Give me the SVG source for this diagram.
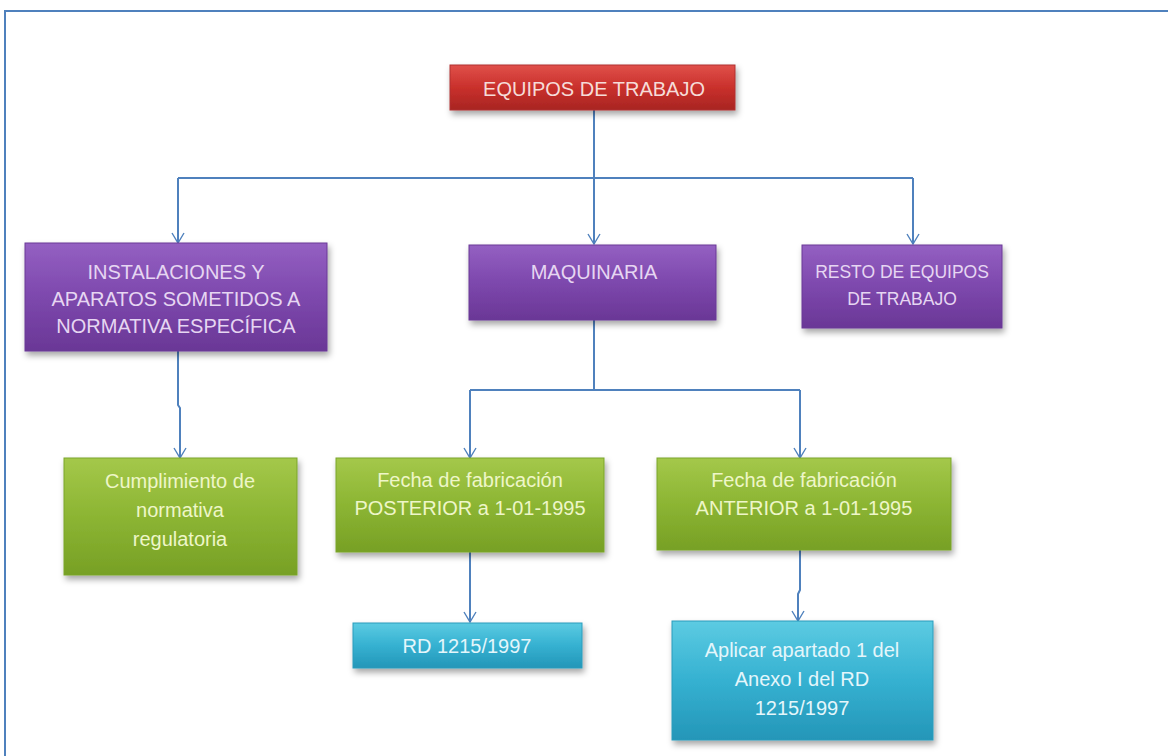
<svg xmlns="http://www.w3.org/2000/svg" width="1168" height="756" viewBox="0 0 1168 756">
<defs>
<linearGradient id="gRed" x1="0" y1="0" x2="0" y2="1"><stop offset="0" stop-color="#e0504a"/><stop offset="0.5" stop-color="#c9302c"/><stop offset="1" stop-color="#a82522"/></linearGradient>
<linearGradient id="gPur" x1="0" y1="0" x2="0" y2="1"><stop offset="0" stop-color="#9460c2"/><stop offset="0.5" stop-color="#7d48ad"/><stop offset="1" stop-color="#6a3796"/></linearGradient>
<linearGradient id="gGrn" x1="0" y1="0" x2="0" y2="1"><stop offset="0" stop-color="#a4c84a"/><stop offset="0.5" stop-color="#8cb533"/><stop offset="1" stop-color="#77a025"/></linearGradient>
<linearGradient id="gCyn" x1="0" y1="0" x2="0" y2="1"><stop offset="0" stop-color="#5ccbe2"/><stop offset="0.5" stop-color="#35b1d1"/><stop offset="1" stop-color="#2496b8"/></linearGradient>
<filter id="sh" x="-10%" y="-10%" width="125%" height="135%"><feDropShadow dx="2" dy="4" stdDeviation="3" flood-color="#000" flood-opacity="0.35"/></filter>
<marker id="arr" markerWidth="14" markerHeight="14" refX="13" refY="7" orient="auto" markerUnits="userSpaceOnUse" viewBox="0 0 14 14"><path d="M3,1 L13,7 L3,13" fill="none" stroke="#4f81bd" stroke-width="1.4"/></marker>
</defs>
<style>
.frame{fill:none;stroke:#4f81bd;stroke-width:2}
.c{fill:none;stroke:#4f81bd;stroke-width:2}
.box{filter:url(#sh);stroke-width:1}
.red{fill:url(#gRed);stroke:#b03030}
.pur{fill:url(#gPur);stroke:#6a3a96}
.grn{fill:url(#gGrn);stroke:#7aa52a}
.cyn{fill:url(#gCyn);stroke:#2a9cbc}
text{font-family:"Liberation Sans",Arial,sans-serif;font-size:20px;text-anchor:middle}
.sm{font-size:17.5px}
.tr{fill:#f6dcd8}
.tp{fill:#e6d6f2}
.tg{fill:#eef6c8}
.tc{fill:#e4f6fb}
</style>
<rect width="1168" height="756" fill="#ffffff"/>
<path class="frame" d="M5,756 V11 H1168"/>
<g id="connectors">
<path class="c" d="M594,110 V178"/>
<path class="c" d="M178,178 H913"/>
<path class="c" d="M178,178 V243" marker-end="url(#arr)"/>
<path class="c" d="M594,178 V244" marker-end="url(#arr)"/>
<path class="c" d="M913,178 V244" marker-end="url(#arr)"/>
<path class="c" d="M178,351 V405 L180,408 V458" marker-end="url(#arr)"/>
<path class="c" d="M594,320 V390"/>
<path class="c" d="M470,390 H800"/>
<path class="c" d="M470,390 V458" marker-end="url(#arr)"/>
<path class="c" d="M800,390 V458" marker-end="url(#arr)"/>
<path class="c" d="M470,552 V622" marker-end="url(#arr)"/>
<path class="c" d="M800,550 V590 L798,594 V621" marker-end="url(#arr)"/>
</g>
<g id="n-equipos">
<rect class="box red" x="450" y="65" width="285" height="45"/>
<text class="tr" x="594" y="96">EQUIPOS DE TRABAJO</text>
</g>
<g id="n-instalaciones">
<rect class="box pur" x="25" y="243" width="302" height="108"/>
<text class="tp" x="176" y="279">INSTALACIONES Y</text>
<text class="tp" x="176" y="306">APARATOS SOMETIDOS A</text>
<text class="tp" x="176" y="333">NORMATIVA ESPECÍFICA</text>
</g>
<g id="n-maquinaria">
<rect class="box pur" x="469" y="245" width="247" height="75"/>
<text class="tp" x="594" y="279">MAQUINARIA</text>
</g>
<g id="n-resto">
<rect class="box pur" x="802" y="245" width="200" height="83"/>
<text class="tp sm" x="902" y="278">RESTO DE EQUIPOS</text>
<text class="tp sm" x="902" y="305">DE TRABAJO</text>
</g>
<g id="n-cumplimiento">
<rect class="box grn" x="64" y="458" width="233" height="117"/>
<text class="tg" x="180" y="488">Cumplimiento de</text>
<text class="tg" x="180" y="517">normativa</text>
<text class="tg" x="180" y="546">regulatoria</text>
</g>
<g id="n-posterior">
<rect class="box grn" x="336" y="458" width="268" height="94"/>
<text class="tg" x="470" y="487">Fecha de fabricación</text>
<text class="tg" x="470" y="515">POSTERIOR a 1-01-1995</text>
</g>
<g id="n-anterior">
<rect class="box grn" x="657" y="458" width="294" height="92"/>
<text class="tg" x="804" y="487">Fecha de fabricación</text>
<text class="tg" x="804" y="515">ANTERIOR a 1-01-1995</text>
</g>
<g id="n-rd">
<rect class="box cyn" x="353" y="623" width="229" height="45"/>
<text class="tc" x="467" y="653">RD 1215/1997</text>
</g>
<g id="n-aplicar">
<rect class="box cyn" x="672" y="621" width="261" height="119"/>
<text class="tc" x="802" y="657">Aplicar apartado 1 del</text>
<text class="tc" x="802" y="686">Anexo I del RD</text>
<text class="tc" x="802" y="715">1215/1997</text>
</g>
</svg>
